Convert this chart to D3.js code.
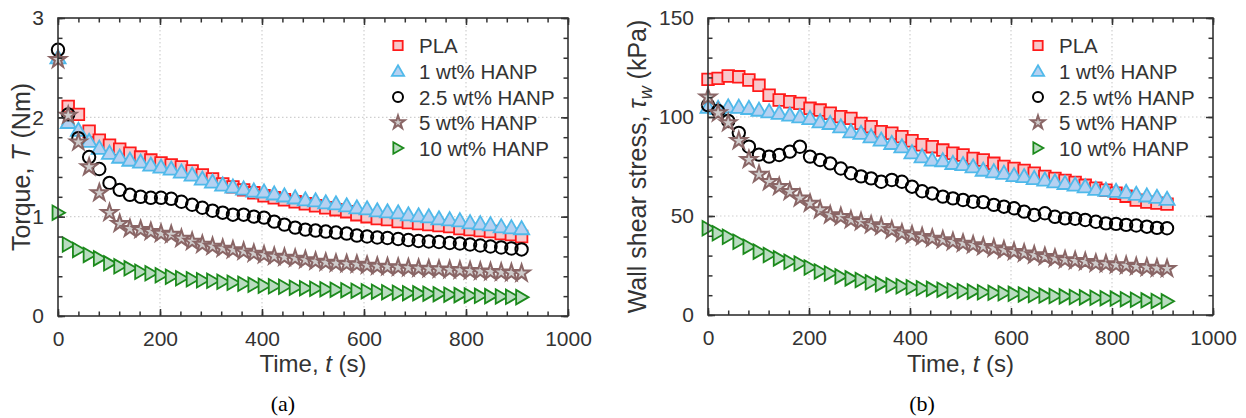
<!DOCTYPE html>
<html>
<head>
<meta charset="utf-8">
<script src="https://cdn.jsdelivr.net/npm/d3@7"></script>
<style>
  body { margin: 0; background: #fff; }
  text { font-family: "Liberation Sans", Arial, sans-serif; fill: #333; }
</style>
</head>
<body>
<div id="chart"></div>
<script>
// time stamps (s), shared by all series
var time = [0, 20, 40, 61, 81, 101, 121, 141, 162, 182, 202, 222, 242, 263, 283, 303,
  323, 343, 364, 384, 404, 424, 444, 465, 485, 505, 525, 545, 566, 586, 606, 626,
  646, 667, 687, 707, 727, 747, 768, 788, 808, 828, 848, 869, 889, 909];

var seriesNames = ["PLA", "1 wt% HANP", "2.5 wt% HANP", "5 wt% HANP", "10 wt% HANP"];

// (a) torque, Nm
var torquePLA = [null, 2.11, 2.03, 1.86, 1.77, 1.72, 1.68, 1.64, 1.60, 1.57, 1.54, 1.52, 1.50, 1.46, 1.42, 1.38,
  1.33, 1.30, 1.27, 1.24, 1.21, 1.19, 1.17, 1.15, 1.13, 1.11, 1.09, 1.07, 1.05, 1.02, 1.00, 0.98,
  0.97, 0.95, 0.94, 0.93, 0.92, 0.91, 0.90, 0.88, 0.87, 0.86, 0.85, 0.83, 0.82, 0.80];
var torque1 = [2.60, 1.95, 1.87, 1.76, 1.69, 1.64, 1.60, 1.57, 1.55, 1.52, 1.50, 1.48, 1.45, 1.42, 1.38, 1.35,
  1.32, 1.30, 1.28, 1.26, 1.25, 1.23, 1.21, 1.19, 1.17, 1.16, 1.14, 1.13, 1.11, 1.09, 1.08, 1.06,
  1.05, 1.04, 1.02, 1.01, 1.00, 0.98, 0.97, 0.96, 0.94, 0.93, 0.92, 0.90, 0.89, 0.88];
var torque25 = [2.68, 2.03, 1.79, 1.60, 1.48, 1.34, 1.27, 1.22, 1.20, 1.19, 1.19, 1.18, 1.15, 1.12, 1.09, 1.06,
  1.04, 1.02, 1.02, 1.00, 0.99, 0.95, 0.92, 0.89, 0.87, 0.86, 0.85, 0.84, 0.83, 0.81, 0.80, 0.79,
  0.785, 0.775, 0.765, 0.755, 0.75, 0.745, 0.735, 0.73, 0.72, 0.71, 0.70, 0.69, 0.68, 0.67];
var torque5 = [2.58, 2.02, 1.75, 1.50, 1.24, 1.04, 0.93, 0.88, 0.87, 0.85, 0.83, 0.82, 0.78, 0.75, 0.72, 0.70,
  0.68, 0.665, 0.65, 0.63, 0.615, 0.60, 0.59, 0.58, 0.565, 0.55, 0.54, 0.53, 0.525, 0.52, 0.51, 0.50,
  0.495, 0.49, 0.485, 0.48, 0.475, 0.47, 0.465, 0.46, 0.455, 0.45, 0.445, 0.44, 0.435, 0.43];
var torque10 = [1.04, 0.72, 0.665, 0.615, 0.58, 0.53, 0.50, 0.48, 0.445, 0.43, 0.41, 0.395, 0.38, 0.37, 0.36, 0.355,
  0.345, 0.335, 0.325, 0.315, 0.305, 0.30, 0.295, 0.285, 0.28, 0.275, 0.27, 0.265, 0.26, 0.255, 0.25, 0.245,
  0.24, 0.235, 0.23, 0.228, 0.225, 0.22, 0.215, 0.21, 0.207, 0.203, 0.20, 0.197, 0.193, 0.19];

// (b) wall shear stress, kPa
var stressPLA = [119, 119.5, 120.7, 120.3, 118.7, 116, 111, 108.6, 107.7, 106.9, 104.4, 103.5, 101.9, 100.2, 99.3, 96.8,
  95.1, 92.6, 91.8, 90.1, 88, 86, 85, 83.3, 81.7, 80.8, 79.1, 78.3, 76.6, 75, 74, 73,
  71.6, 70, 69, 68, 67, 65.5, 64, 63, 61.5, 60, 58, 57, 56.5, 56];
var stress1 = [105, 104.4, 105.2, 105, 104.4, 103.5, 102.7, 101.9, 101, 100.2, 99.3, 97.6, 96.8, 95.1, 92.6, 91.8,
  90.1, 88.4, 86.7, 85, 82, 80, 78.3, 78, 76.6, 76, 74.9, 73.2, 72.4, 71.6, 70.5, 70,
  69, 68.2, 67.3, 66.5, 65.7, 64.8, 63.5, 63, 62.5, 62, 61, 60.2, 59.5, 58.5];
var stress25 = [106, 103, 98, 92, 85, 81, 80, 80.8, 82.5, 85, 80, 78.3, 76.6, 74, 71.6, 70,
  69, 67.3, 68.2, 67.3, 64.8, 62.5, 61.4, 59.8, 58.9, 58.1, 57.2, 57, 55.6, 54.7, 53.9, 52.2,
  50.5, 51.4, 49.6, 48.8, 48.6, 48, 47.1, 46.3, 46, 45.5, 45.2, 44.6, 44, 43.8];
var stress5 = [110, 102, 97, 88, 78.5, 71, 67.3, 64.8, 62.3, 59, 56.4, 53, 50.5, 49.6, 48, 47.1,
  45.5, 44.6, 42.9, 41.3, 40.4, 39.5, 38.7, 37.9, 37, 36.2, 35.4, 34.5, 33.7, 32.8, 32, 31.2,
  30.3, 29.5, 28.6, 27.8, 27.4, 26.9, 26.1, 25.8, 25.3, 25, 24.4, 24, 23.6, 23.4];
var stress10 = [43.8, 41.3, 39.5, 37, 34.5, 32, 30.3, 28.6, 26.9, 26, 24, 22, 21, 19.5, 18.5, 17.7,
  16.5, 15.6, 15, 14.5, 14, 13.5, 13.2, 12.8, 12.4, 12.1, 11.8, 11.5, 11.2, 11, 10.7, 10.4,
  10.1, 9.8, 9.6, 9.4, 9.1, 8.9, 8.7, 8.5, 8.3, 8.0, 7.7, 7.4, 7.1, 6.9];

var xTicks = [0, 200, 400, 600, 800, 1000];
var torqueTicks = [0, 1, 2, 3];
var stressTicks = [0, 50, 100, 150];

// marker styles per series
var styles = [
  { shape: "square", size: 135, stroke: "#ff1a1a", fill: "#f8c8cb", sw: 1.8 },
  { shape: "triangle", size: 100, stroke: "#4fb9ea", fill: "#b5d1f1", sw: 1.8 },
  { shape: "circle", size: 6.2, stroke: "#000", fill: "none", sw: 2 },
  { shape: "star", size: 85, stroke: "#8a6666", fill: "#cfcccc", sw: 2 },
  { shape: "right", size: 90, stroke: "#1c8a1c", fill: "#b9dcc0", sw: 1.8 }
];

var svg = d3.select("#chart").append("svg")
  .attr("width", 1246)
  .attr("height", 418);

function drawMarker(g, st, cx, cy, k) {
  k = k || 1;
  if (st.shape == "circle") {
    g.append("circle").attr("cx", cx).attr("cy", cy).attr("r", st.size * Math.sqrt(k))
      .attr("fill", st.fill).attr("stroke", st.stroke).attr("stroke-width", st.sw);
    return;
  }
  var type = { square: d3.symbolSquare, triangle: d3.symbolTriangle, star: d3.symbolStar, right: d3.symbolTriangle }[st.shape];
  var rot = st.shape == "right" ? 90 : 0;
  var dy = st.shape == "triangle" ? 1.3 : 0;
  var dx = st.shape == "right" ? -1.3 : 0;
  g.append("path")
    .attr("d", d3.symbol().type(type).size(st.size * k)())
    .attr("transform", "translate(" + (cx + dx) + "," + (cy + dy) + ") rotate(" + rot + ")")
    .attr("fill", st.fill)
    .attr("stroke", st.stroke)
    .attr("stroke-width", st.sw)
    .attr("stroke-linejoin", "miter");
}

function drawPanel(p) {
  var x = d3.scaleLinear().domain([0, 1000]).range([p.left, p.right]);
  var y = d3.scaleLinear().domain([0, p.ymax]).range([p.bottom, p.top]);
  var g = svg.append("g");

  // dotted grid at major ticks
  g.append("g").selectAll("line.gx")
    .data(xTicks.slice(1, -1))
    .enter().append("line")
    .attr("x1", d => x(d)).attr("x2", d => x(d))
    .attr("y1", p.top).attr("y2", p.bottom)
    .attr("stroke", "#cfcfcf").attr("stroke-width", 1.2).attr("stroke-dasharray", "1.5,2.5");
  g.append("g").selectAll("line.gy")
    .data(p.yTicks.slice(1, -1))
    .enter().append("line")
    .attr("x1", p.left).attr("x2", p.right)
    .attr("y1", d => y(d)).attr("y2", d => y(d))
    .attr("stroke", "#cfcfcf").attr("stroke-width", 1.2).attr("stroke-dasharray", "1.5,2.5");

  // data markers, drawn in legend order
  p.series.forEach(function(vals, si) {
    var sg = g.append("g");
    vals.forEach(function(v, i) {
      if (v == null) return;
      drawMarker(sg, styles[si], x(time[i]), y(v));
    });
  });

  // inward ticks on all four sides
  var xMinor = d3.range(0, 1001, 40);
  var yMinor = d3.range(0, p.ymax + 1e-9, p.ymax / 15);
  var tickStyle = function(sel) {
    sel.select(".domain").remove();
    sel.selectAll("line").attr("stroke", "#333").attr("stroke-width", 1.5);
  };
  g.append("g").attr("transform", "translate(0," + p.bottom + ")")
    .call(d3.axisBottom(x).tickValues(xMinor).tickSize(-4.5).tickFormat("")).call(tickStyle);
  g.append("g").attr("transform", "translate(0," + p.top + ")")
    .call(d3.axisTop(x).tickValues(xMinor).tickSize(-4.5).tickFormat("")).call(tickStyle);
  g.append("g").attr("transform", "translate(" + p.left + ",0)")
    .call(d3.axisLeft(y).tickValues(yMinor).tickSize(-4.5).tickFormat("")).call(tickStyle);
  g.append("g").attr("transform", "translate(" + p.right + ",0)")
    .call(d3.axisRight(y).tickValues(yMinor).tickSize(-4.5).tickFormat("")).call(tickStyle);

  var xb = g.append("g").attr("transform", "translate(0," + p.bottom + ")")
    .call(d3.axisBottom(x).tickValues(xTicks).tickSize(-7).tickPadding(15).tickFormat(d3.format("d")))
    .call(tickStyle);
  g.append("g").attr("transform", "translate(0," + p.top + ")")
    .call(d3.axisTop(x).tickValues(xTicks).tickSize(-7).tickFormat("")).call(tickStyle);
  var yl = g.append("g").attr("transform", "translate(" + p.left + ",0)")
    .call(d3.axisLeft(y).tickValues(p.yTicks).tickSize(-7).tickPadding(14).tickFormat(d3.format("d")))
    .call(tickStyle);
  g.append("g").attr("transform", "translate(" + p.right + ",0)")
    .call(d3.axisRight(y).tickValues(p.yTicks).tickSize(-7).tickFormat("")).call(tickStyle);
  [xb, yl].forEach(function(a) {
    a.selectAll("text").attr("font-family", "Liberation Sans, Arial, sans-serif")
      .attr("font-size", 21).attr("fill", "#3a3a3a");
  });

  // frame
  g.append("rect")
    .attr("x", p.left).attr("y", p.top)
    .attr("width", p.right - p.left).attr("height", p.bottom - p.top)
    .attr("fill", "none").attr("stroke", "#333").attr("stroke-width", 1.6);

  // x title
  var xt = g.append("text")
    .attr("x", (p.left + p.right) / 2).attr("y", 372)
    .attr("text-anchor", "middle").attr("font-size", 24);
  xt.append("tspan").text("Time, ");
  xt.append("tspan").attr("font-style", "italic").text("t");
  xt.append("tspan").text(" (s)");

  // y title
  var yt = g.append("text")
    .attr("transform", "translate(" + p.yTitleX + "," + ((p.top + p.bottom) / 2) + ") rotate(-90)")
    .attr("text-anchor", "middle").attr("font-size", 25);
  p.yTitle(yt);

  // legend
  var lg = g.append("g");
  seriesNames.forEach(function(name, i) {
    var cy = p.legendY[i];
    drawMarker(lg, styles[i], p.legendX, cy, 0.65);
    lg.append("text").attr("x", p.legendX + 21).attr("y", cy + 7.5)
      .attr("font-size", 20.5).attr("fill", "#222").text(name);
  });

  // panel label
  svg.append("text")
    .attr("x", p.labelX).attr("y", 411)
    .attr("text-anchor", "middle")
    .style("font-family", "Liberation Serif, Times New Roman, serif")
    .style("fill", "#000")
    .attr("font-size", 22).text(p.label);
}

var legendRows = [45.5, 71, 97, 122.5, 148];

drawPanel({
  left: 58, right: 568, top: 18, bottom: 316, ymax: 3,
  yTicks: torqueTicks,
  series: [torquePLA, torque1, torque25, torque5, torque10],
  yTitleX: 30,
  yTitle: function(t) {
    t.append("tspan").text("Torque, ");
    t.append("tspan").attr("font-style", "italic").text("T");
    t.append("tspan").text(" (Nm)");
  },
  legendX: 398, legendY: legendRows,
  labelX: 283, label: "(a)"
});

drawPanel({
  left: 708, right: 1213, top: 18, bottom: 315, ymax: 150,
  yTicks: stressTicks,
  series: [stressPLA, stress1, stress25, stress5, stress10],
  yTitleX: 646,
  yTitle: function(t) {
    t.append("tspan").text("Wall shear stress, ");
    t.append("tspan").attr("font-style", "italic").text("\u03C4");
    t.append("tspan").attr("font-style", "italic").attr("font-size", 18).attr("dy", 6).text("w");
    t.append("tspan").attr("dy", -6).text(" (kPa)");
  },
  legendX: 1038, legendY: legendRows,
  labelX: 922, label: "(b)"
});
</script>
</body>
</html>
